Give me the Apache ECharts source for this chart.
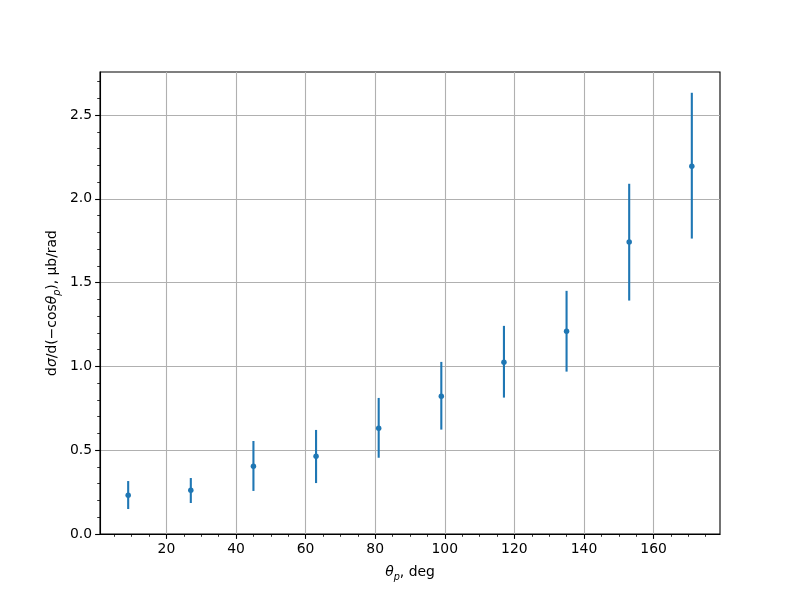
<!DOCTYPE html>
<html>
<head>
<meta charset="utf-8">
<script src="https://cdn.jsdelivr.net/npm/echarts@6/dist/echarts.min.js"></script>
<style>html,body{margin:0;padding:0;background:#fff}#c{width:800px;height:600px}</style>
</head>
<body>
<div id="c"></div>
<script>
// Data
const thetaDeg = [9, 27, 45, 63, 81, 99, 117, 135, 153, 171];
const crossSection = [0.231, 0.261, 0.404, 0.464, 0.631, 0.822, 1.025, 1.210, 1.742, 2.195];
const errLow = [0.149, 0.185, 0.257, 0.304, 0.455, 0.623, 0.814, 0.969, 1.393, 1.763];
const errHigh = [0.316, 0.334, 0.555, 0.621, 0.812, 1.027, 1.242, 1.451, 2.090, 2.633];
const xTickLabels = [20, 40, 60, 80, 100, 120, 140, 160];
const xMinorTicks = [5, 10, 15, 25, 30, 35, 45, 50, 55, 65, 70, 75, 85, 90, 95, 105, 110, 115, 125, 130, 135, 145, 150, 155, 165, 170, 175];
const yTickLabels = [0, 0.5, 1.0, 1.5, 2.0, 2.5];
const yMinorTicks = [0.1, 0.2, 0.3, 0.4, 0.6, 0.7, 0.8, 0.9, 1.1, 1.2, 1.3, 1.4, 1.6, 1.7, 1.8, 1.9, 2.1, 2.2, 2.3, 2.4, 2.6, 2.7];

const xMin = 0.9, xMax = 179.1, yMin = 0, yMax = 2.757;
const FONT = 'DejaVu Sans';
const FS = 13.9;
const BLUE = '#1f77b4';

const pointData = thetaDeg.map((x, i) => [x, crossSection[i]]);
const errData = thetaDeg.map((x, i) => [x, errLow[i], errHigh[i]]);

const chart = echarts.init(document.getElementById('c'), null, {renderer: 'canvas'});

const rich = {
  n: {fontFamily: FONT, fontSize: FS, color: '#000', lineHeight: 20},
  i: {fontFamily: FONT, fontSize: FS, color: '#000', fontStyle: 'italic', lineHeight: 20},
  s: {fontFamily: FONT, fontSize: 9.7, color: '#000', fontStyle: 'italic', lineHeight: 20, verticalAlign: 'bottom', padding: [0, 0, 0, 0]}
};

const option = {
  animation: false,
  backgroundColor: '#fff',
  grid: {left: 100, right: 80, top: 72, bottom: 66, show: true, borderColor: '#000', borderWidth: 1.1, backgroundColor: 'transparent'},
  xAxis: [{
    type: 'value', min: xMin, max: xMax,
    name: '{i|θ}{s|p}{n|, deg}', nameLocation: 'middle', nameGap: 28, nameMoveOverlap: false,
    nameTextStyle: {rich: rich},
    axisLine: {show: true, lineStyle: {color: '#000', width: 1.1}},
    axisTick: {show: true, inside: false, length: 4.9, customValues: xTickLabels, lineStyle: {color: '#000', width: 1.1}},
    axisLabel: {show: true, customValues: xTickLabels, margin: 8, color: '#000', fontFamily: FONT, fontSize: FS},
    splitLine: {show: true, lineStyle: {color: '#b0b0b0', width: 1.1}},
    minorTick: {show: false}
  }, {
    type: 'value', min: xMin, max: xMax, position: 'bottom',
    axisLine: {show: false},
    axisTick: {show: true, inside: false, length: 2.8, customValues: xMinorTicks, lineStyle: {color: '#000', width: 0.8}},
    axisLabel: {show: false},
    splitLine: {show: false}
  }],
  yAxis: [{
    type: 'value', min: yMin, max: yMax,
    name: '{n|d}{i|σ}{n|/d(−cos}{i|θ}{s|p}{n|), μb/rad}', nameLocation: 'middle', nameGap: 38, nameRotate: 90, nameMoveOverlap: false,
    nameTextStyle: {rich: rich},
    axisLine: {show: true, lineStyle: {color: '#000', width: 1.1}},
    axisTick: {show: true, inside: false, length: 4.9, customValues: yTickLabels, lineStyle: {color: '#000', width: 1.1}},
    axisLabel: {show: true, customValues: yTickLabels, margin: 8, color: '#000', fontFamily: FONT, fontSize: FS, formatter: v => v.toFixed(1)},
    splitLine: {show: true, lineStyle: {color: '#b0b0b0', width: 1.1}}
  }, {
    type: 'value', min: yMin, max: yMax, position: 'left',
    axisLine: {show: false},
    axisTick: {show: true, inside: false, length: 2.8, customValues: yMinorTicks, lineStyle: {color: '#000', width: 0.8}},
    axisLabel: {show: false},
    splitLine: {show: false}
  }],
  series: [{
    type: 'custom',
    xAxisIndex: 0, yAxisIndex: 0,
    data: errData,
    encode: {x: 0, y: [1, 2]},
    renderItem: function (params, api) {
      const x = api.value(0);
      const p1 = api.coord([x, api.value(1)]);
      const p2 = api.coord([x, api.value(2)]);
      return {type: 'line', shape: {x1: p1[0], y1: p1[1], x2: p2[0], y2: p2[1]}, style: {stroke: BLUE, lineWidth: 2.1}};
    },
    z: 2
  }, {
    type: 'scatter',
    xAxisIndex: 0, yAxisIndex: 0,
    data: pointData,
    symbol: 'circle', symbolSize: 5.5,
    itemStyle: {color: BLUE, opacity: 1},
    z: 3
  }]
};
chart.setOption(option);
</script>
</body>
</html>
